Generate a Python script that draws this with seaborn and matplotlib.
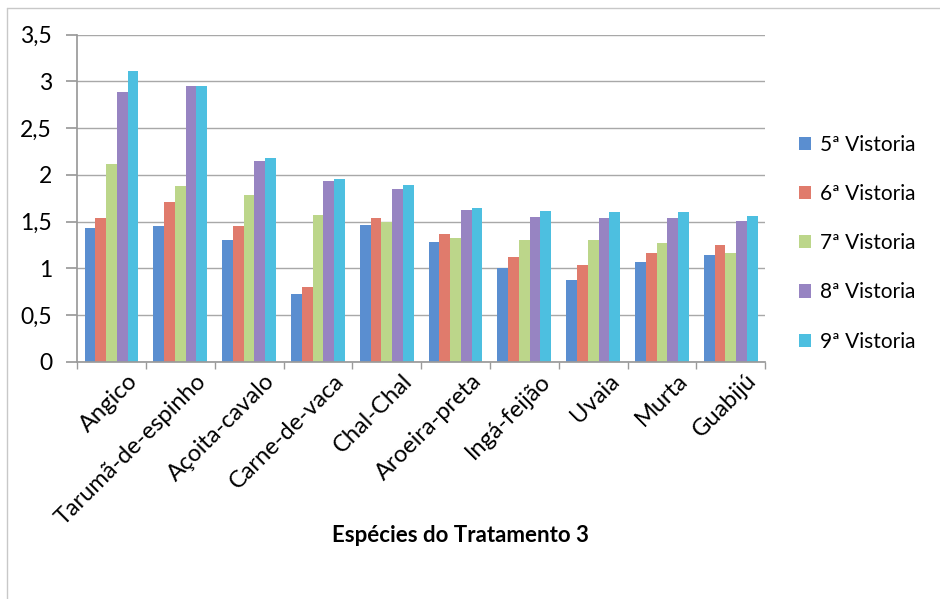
import matplotlib
matplotlib.use("Agg")
import matplotlib.pyplot as plt
import matplotlib.transforms as mtransforms
import seaborn as sns
import pandas as pd
from matplotlib.lines import Line2D

species = ["Angico", "Tarumã-de-espinho", "Açoita-cavalo", "Carne-de-vaca", "Chal-Chal",
           "Aroeira-preta", "Ingá-feijão", "Uvaia", "Murta", "Guabijú"]
series = ["5ª Vistoria", "6ª Vistoria", "7ª Vistoria", "8ª Vistoria", "9ª Vistoria"]
v5 = [1.43, 1.45, 1.30, 0.73, 1.46, 1.28, 1.00, 0.88, 1.07, 1.14]
v6 = [1.54, 1.71, 1.45, 0.80, 1.54, 1.37, 1.12, 1.04, 1.16, 1.25]
v7 = [2.12, 1.88, 1.78, 1.57, 1.50, 1.33, 1.30, 1.30, 1.27, 1.16]
v8 = [2.89, 2.95, 2.15, 1.94, 1.85, 1.62, 1.55, 1.54, 1.54, 1.51]
v9 = [3.11, 2.95, 2.18, 1.96, 1.89, 1.65, 1.61, 1.60, 1.60, 1.56]
yticks = [0, 0.5, 1, 1.5, 2, 2.5, 3, 3.5]
ytick_labels = ["0", "0,5", "1", "1,5", "2", "2,5", "3", "3,5"]
xlabel = "Espécies do Tratamento 3"
colors = ["#5A8ED0", "#E07B6C", "#BCD68A", "#9784C2", "#4DBFE0"]

rows = []
for s, vals in zip(series, [v5, v6, v7, v8, v9]):
    for sp, v in zip(species, vals):
        rows.append({"Espécie": sp, "Vistoria": s, "Valor": v})
df = pd.DataFrame(rows)

sns.set_theme(style="white")
plt.rcParams["font.family"] = ["Lato", "DejaVu Sans"]
plt.rcParams["text.color"] = "black"

fig = plt.figure(figsize=(9.4, 5.99), dpi=100)
ax = fig.add_axes([0.082, 0.396, 0.732, 0.546])

sns.barplot(data=df, x="Espécie", y="Valor", hue="Vistoria", order=species,
            hue_order=series, palette=colors, width=0.78, gap=0, saturation=1,
            edgecolor="none", linewidth=0, ax=ax)

ax.set_ylim(0, 3.5)
ax.set_xlim(-0.5, len(species) - 0.5)
ax.set_yticks(yticks)
ax.set_yticklabels(ytick_labels, fontsize=16.5, color="black")
ax.yaxis.grid(True, color="#a8a8a8", linewidth=1)
ax.set_axisbelow(True)
for side in ["top", "right"]:
    ax.spines[side].set_visible(False)
ax.spines["left"].set_color("#9a9a9a")
ax.spines["bottom"].set_color("#9a9a9a")
ax.tick_params(axis="y", length=8, color="#9a9a9a", left=True, pad=10)

# category boundary ticks
ax.set_xticks([i - 0.5 for i in range(len(species) + 1)], minor=True)
ax.tick_params(axis="x", which="minor", length=5, color="#9a9a9a", bottom=True)
ax.set_xticks(range(len(species)))
ax.set_xticklabels(species, rotation=45, ha="right", va="top", rotation_mode="anchor",
                   fontsize=17, color="black")
ax.tick_params(axis="x", which="major", length=0, pad=6)
offset = mtransforms.ScaledTranslation(15 / 100, 0, fig.dpi_scale_trans)
for lbl in ax.get_xticklabels():
    lbl.set_transform(lbl.get_transform() + offset)

ax.set_xlabel(xlabel, fontsize=16, fontweight="bold", color="black")
ax.xaxis.set_label_coords(0.557, -0.50)
ax.set_ylabel("")

leg = ax.legend(loc="center left", bbox_to_anchor=(0.83, 0.594),
                bbox_transform=fig.transFigure, frameon=False,
                fontsize=15, handlelength=0.6, handleheight=0.6, handletextpad=0.4,
                labelspacing=1.4)

fig.add_artist(Line2D([0.0075, 0.0075], [0.0, 0.987], transform=fig.transFigure,
                      color="#c8c8c8", linewidth=1))
fig.add_artist(Line2D([0.0075, 1.0], [0.987, 0.987], transform=fig.transFigure,
                      color="#c8c8c8", linewidth=1))

fig.savefig("out.png", dpi=100, facecolor="white")
